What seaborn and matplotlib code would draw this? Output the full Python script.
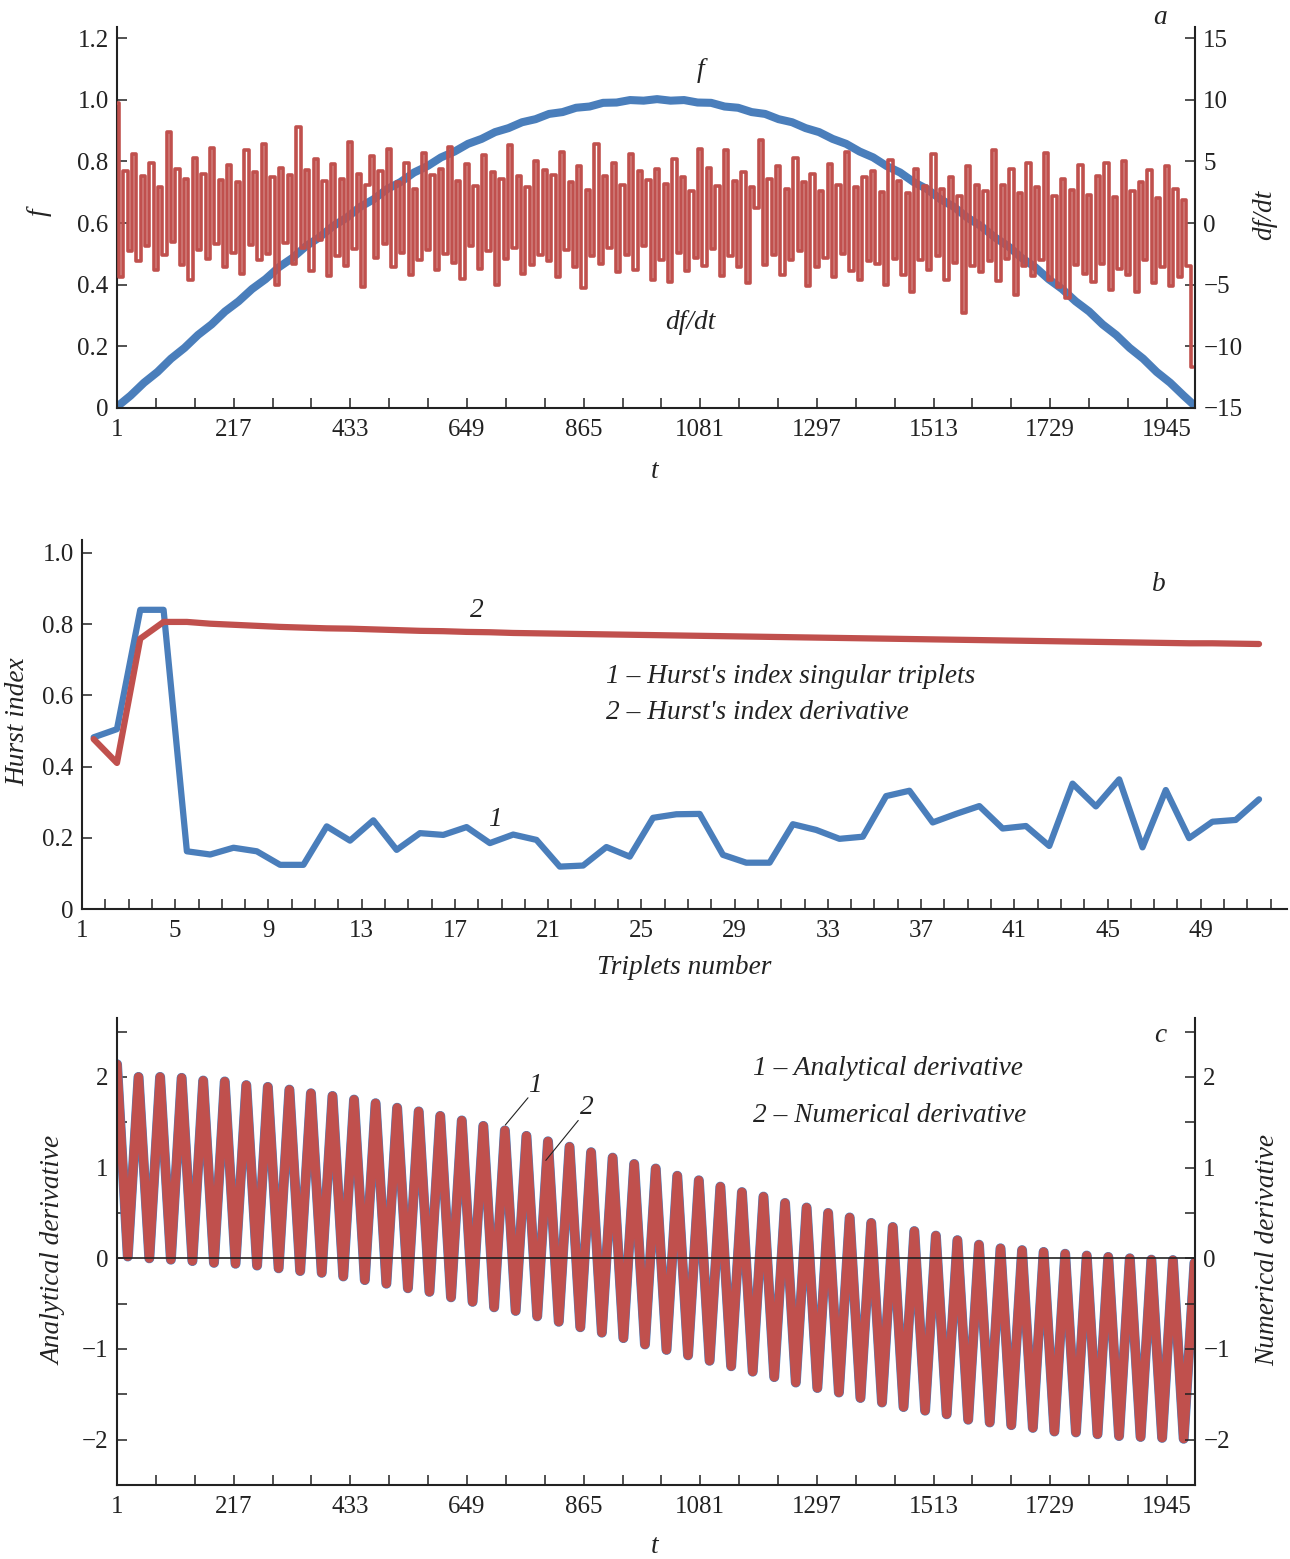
import numpy as np
import pandas as pd
import matplotlib
matplotlib.use("Agg")
import matplotlib.pyplot as plt
from matplotlib.ticker import FixedLocator
import seaborn as sns

# ------------------------------------------------------------------ data
# panel a : signal f (read every 25 time steps) and its numerical derivative df/dt
f_t = np.arange(81) * 25 + 1
f_values = [0.004, 0.040, 0.082, 0.117, 0.160, 0.195, 0.237, 0.271, 0.313, 0.346,
            0.386, 0.418, 0.457, 0.487, 0.525, 0.554, 0.590, 0.617, 0.652, 0.677,
            0.710, 0.733, 0.764, 0.785, 0.813, 0.832, 0.857, 0.873, 0.895, 0.908,
            0.927, 0.937, 0.954, 0.960, 0.974, 0.978, 0.990, 0.991, 0.999, 0.997,
            1.002, 0.997, 0.999, 0.991, 0.990, 0.978, 0.974, 0.960, 0.954, 0.937,
            0.927, 0.908, 0.895, 0.873, 0.857, 0.832, 0.813, 0.785, 0.764, 0.733,
            0.710, 0.677, 0.652, 0.617, 0.590, 0.554, 0.525, 0.487, 0.457, 0.418,
            0.386, 0.346, 0.313, 0.271, 0.237, 0.195, 0.160, 0.117, 0.082, 0.040, 0.0]

dfdt_t = np.arange(250) * 8 + 1
dfdt_values = [
    9.7, -4.4, 4.2, -2.3, 5.6, -3.1, 3.8, -1.9, 4.9, -3.8, 2.9, -2.6, 7.4, -1.5, 4.4, -3.4, 3.6, -4.6, 5.3, -2.2, 4.0, -2.9, 6.1, -1.7, 3.5,
    -3.6, 4.7, -2.4, 3.3, -4.1, 5.9, -1.8, 4.1, -3.0, 6.4, -2.5, 3.7, -5.0, 4.5, -1.6, 3.9, -3.3, 7.8, -2.0, 4.3, -3.9, 5.2, -1.4, 3.4, -4.3,
    4.8, -2.7, 3.6, -3.5, 6.6, -2.1, 4.0, -5.2, 3.1, 5.4, -2.8, 4.2, -1.7, 6.0, -3.6, 3.3, -2.4, 4.9, -4.2, 2.8, -3.0, 5.7, -2.2, 3.9, -3.8,
    4.4, -2.5, 6.2, -3.2, 3.4, -4.5, 4.8, -1.9, 3.0, -3.7, 5.5, -2.3, 4.1, -5.0, 3.6, -2.9, 6.3, -2.0, 3.8, -4.1, 2.9, -3.4, 5.0, -2.6, 4.3,
    -3.1, 3.9, -4.4, 5.8, -2.2, 3.3, -3.6, 4.6, -5.3, 2.7, -2.7, 6.4, -3.3, 3.8, -2.0, 4.9, -4.0, 3.1, -2.6, 5.6, -3.8, 4.2, -1.9, 3.5, -4.6,
    4.4, -3.0, 3.2, -4.8, 5.2, -2.4, 3.7, -3.9, 2.6, -2.8, 6.0, -3.5, 4.5, -2.1, 3.0, -4.3, 5.9, -2.7, 3.4, -3.6, 4.1, -4.9, 2.9, 1.2, 6.7,
    -3.4, 3.6, -2.6, 4.6, -4.2, 2.8, -3.0, 5.3, -2.3, 3.3, -5.1, 4.0, -3.6, 2.6, -2.8, 4.8, -4.4, 3.1, -2.5, 5.8, -3.9, 2.9, -4.6, 3.7, -3.1,
    4.2, -3.3, 2.5, -5.0, 5.1, -2.9, 3.4, -4.2, 2.4, -5.6, 4.4, -3.0, 3.0, -3.8, 5.6, -2.7, 2.8, -4.6, 3.7, -3.2, 2.2, -7.3, 4.6, -3.5, 3.1,
    -4.0, 2.6, -3.1, 5.9, -4.7, 3.1, -2.9, 4.4, -5.8, 2.4, -3.5, 4.9, -4.3, 2.9, -3.0, 5.7, -4.6, 2.2, -5.2, 3.6, -6.1, 2.7, -3.4, 4.7, -4.1,
    2.3, -4.8, 3.8, -3.3, 4.9, -5.4, 2.1, -3.7, 5.0, -4.2, 2.6, -5.6, 3.3, -3.0, 4.3, -4.9, 2.0, -3.6, 4.6, -5.1, 2.8, -4.4, 1.9, -3.5, -11.7]

time_ticks = [1, 217, 433, 649, 865, 1081, 1297, 1513, 1729, 1945]
f_ticks = [0, 0.2, 0.4, 0.6, 0.8, 1.0, 1.2]
f_tick_labels = ["0", "0.2", "0.4", "0.6", "0.8", "1.0", "1.2"]
dfdt_ticks = [-15, -10, -5, 0, 5, 10, 15]

# panel b : Hurst indices per triplet
triplet_numbers = np.arange(1, 52)
hurst_singular = [0.482, 0.505, 0.840, 0.840, 0.162, 0.153, 0.172, 0.162, 0.124, 0.124,
                  0.232, 0.192, 0.249, 0.166, 0.213, 0.208, 0.230, 0.185, 0.209, 0.194,
                  0.119, 0.122, 0.174, 0.147, 0.256, 0.266, 0.267, 0.152, 0.130, 0.130,
                  0.238, 0.222, 0.197, 0.203, 0.317, 0.332, 0.243, 0.267, 0.289, 0.226,
                  0.233, 0.177, 0.352, 0.288, 0.364, 0.173, 0.334, 0.199, 0.245, 0.250, 0.308]
hurst_derivative = [0.477, 0.410, 0.759, 0.806, 0.806, 0.801, 0.798, 0.795, 0.792, 0.790,
                    0.788, 0.787, 0.785, 0.783, 0.781, 0.780, 0.778, 0.777, 0.775, 0.774,
                    0.773, 0.772, 0.771, 0.770, 0.769, 0.768, 0.767, 0.766, 0.765, 0.764,
                    0.763, 0.762, 0.761, 0.760, 0.759, 0.758, 0.757, 0.756, 0.755, 0.754,
                    0.753, 0.752, 0.751, 0.750, 0.749, 0.748, 0.747, 0.746, 0.746, 0.745, 0.744]
hurst_ticks = [0, 0.2, 0.4, 0.6, 0.8, 1.0]
hurst_tick_labels = ["0", "0.2", "0.4", "0.6", "0.8", "1.0"]
triplet_ticks = list(range(1, 53, 4))

# panel c : analytical / numerical derivative (successive maxima and minima)
cycle_period = 39.9
deriv_peaks = [2.14, 2.00, 2.00, 1.99, 1.96, 1.95, 1.91, 1.89, 1.86, 1.82,
               1.79, 1.75, 1.71, 1.66, 1.62, 1.57, 1.52, 1.46, 1.41, 1.35,
               1.29, 1.23, 1.17, 1.11, 1.04, 0.99, 0.91, 0.86, 0.79, 0.73,
               0.68, 0.61, 0.56, 0.50, 0.45, 0.39, 0.345, 0.30, 0.25, 0.20,
               0.15, 0.11, 0.09, 0.07, 0.05, 0.03, 0.015, 0.0, -0.015, -0.02, -0.05]
deriv_troughs = [0.02, 0.0, -0.015, -0.03, -0.05, -0.06, -0.08, -0.11, -0.14, -0.16,
                 -0.20, -0.24, -0.28, -0.33, -0.37, -0.43, -0.48, -0.54, -0.58, -0.64,
                 -0.70, -0.76, -0.82, -0.88, -0.95, -1.01, -1.07, -1.13, -1.19, -1.25,
                 -1.31, -1.37, -1.43, -1.48, -1.54, -1.59, -1.64, -1.68, -1.72, -1.78,
                 -1.81, -1.84, -1.87, -1.91, -1.92, -1.94, -1.96, -1.97, -1.98, -1.99]
deriv_ticks = [-2, -1, 0, 1, 2]
deriv_minor = [-2.5, -1.5, -0.5, 0.5, 1.5, 2.5]

# ------------------------------------------------------------------ style
BLUE = "#4A7EBB"
RED = "#C0504D"
INK = "#222222"

sns.set_theme(style="ticks", rc={
    "xtick.direction": "in", "ytick.direction": "in",
    "xtick.major.size": 7, "ytick.major.size": 7,
    "xtick.minor.size": 7, "ytick.minor.size": 7,
    "xtick.major.width": 1.1, "ytick.major.width": 1.1,
    "xtick.minor.width": 1.1, "ytick.minor.width": 1.1,
    "xtick.color": INK, "ytick.color": INK,
    "axes.edgecolor": INK, "axes.linewidth": 1.5,
    "xtick.labelsize": 18, "ytick.labelsize": 18,
    "axes.labelsize": 19.7, "text.color": INK, "axes.labelcolor": INK,
})
plt.rcParams["font.family"] = ["Liberation Serif", "DejaVu Serif"]
plt.rcParams["axes.unicode_minus"] = True

W, H = 1290, 1559
fig = plt.figure(figsize=(W / 100, H / 100), dpi=100)


def frac(x0, x1, ytop, ybot):
    return [x0 / W, 1 - ybot / H, (x1 - x0) / W, (ybot - ytop) / H]


def minus(v):
    return f"{v:g}".replace("-", "\u2212")


ital = dict(fontstyle="italic", fontsize=19.7, color=INK)

# ------------------------------------------------------------------ panel a
axa = fig.add_axes(frac(117, 1195, 27, 408))
sns.lineplot(x=f_t, y=f_values, ax=axa, color=BLUE, linewidth=5.8,
             estimator=None, sort=False, solid_capstyle="round",
             solid_joinstyle="round")
axa.set_xlim(1, 1997)
axa.set_ylim(0, 1.236)
axa.set_xticks(time_ticks)
axa.xaxis.set_minor_locator(FixedLocator(np.arange(1, 1998, 72)))
axa.set_yticks(f_ticks)
axa.set_yticklabels(f_tick_labels)
axa.spines["top"].set_visible(False)
axa.spines["right"].set_visible(False)
axa.set_xlabel("t", **ital)
axa.xaxis.set_label_coords(0.499, -0.135)
axa.set_ylabel("f", **ital)
axa.yaxis.set_label_coords(-0.061, 0.514)

axa2 = axa.twinx()
sns.lineplot(x=dfdt_t, y=dfdt_values, ax=axa2, color=RED, linewidth=2.6,
             estimator=None, sort=False, drawstyle="steps-mid",
             solid_joinstyle="round", solid_capstyle="round")
axa2.set_ylim(-15, 15.9)
axa2.set_yticks(dfdt_ticks)
axa2.set_yticklabels([minus(v) for v in dfdt_ticks])
for s in ("top", "left", "bottom"):
    axa2.spines[s].set_visible(False)
axa2.set_ylabel("df/dt", **ital)
axa2.yaxis.set_label_coords(1.053, 0.507)

axa.text(1081, 1.096, "f", ha="center", va="center", **ital)
axa.text(1062, 0.276, "df/dt", ha="center", va="center", **ital)
axa.text(0.9675, 1.026, "a", transform=axa.transAxes, ha="center", va="center", **ital)

# ------------------------------------------------------------------ panel b
axb = fig.add_axes(frac(82, 1287, 540, 909))
xb = triplet_numbers + 0.5
sns.lineplot(x=xb, y=hurst_singular, ax=axb, color=BLUE, linewidth=4.5,
             estimator=None, sort=False)
sns.lineplot(x=xb, y=hurst_derivative, ax=axb, color=RED, linewidth=4.5,
             estimator=None, sort=False, solid_capstyle="round")
axb.set_xlim(1, 52.7)
axb.set_ylim(0, 1.036)
axb.set_xticks(triplet_ticks)
axb.xaxis.set_minor_locator(FixedLocator(range(1, 53)))
axb.set_yticks(hurst_ticks)
axb.set_yticklabels(hurst_tick_labels)
axb.spines["top"].set_visible(False)
axb.spines["right"].set_visible(False)
axb.set_xlabel("Triplets number", **ital)
axb.xaxis.set_label_coords(0.4996, -0.125)
axb.set_ylabel("Hurst index", **ital)
axb.yaxis.set_label_coords(-0.043, 0.507)

axb.text(17.96, 0.837, "2", ha="center", va="center", **ital)
axb.text(18.7, 0.25, "1", ha="center", va="center", **ital)
axb.text(23.5, 0.654, "1 \u2013 Hurst's index singular triplets", ha="left", va="center", **ital)
axb.text(23.5, 0.551, "2 \u2013 Hurst's index derivative", ha="left", va="center", **ital)
axb.text(47.2, 0.91, "b", ha="center", va="center", **ital)

# ------------------------------------------------------------------ panel c
axc = fig.add_axes(frac(117, 1195, 1018, 1485))
n_p = len(deriv_peaks)
t_peaks = 1 + cycle_period * np.arange(n_p)
t_troughs = t_peaks[:-1] + cycle_period / 2
tc = np.empty(n_p + len(deriv_troughs))
vc = np.empty_like(tc)
tc[0::2] = t_peaks
tc[1::2] = t_troughs
vc[0::2] = deriv_peaks
vc[1::2] = deriv_troughs
deriv_df = pd.DataFrame({"t": tc, "analytical": vc, "numerical": vc})

sns.lineplot(data=deriv_df, x="t", y="analytical", ax=axc, color=BLUE,
             linewidth=7.2, estimator=None, sort=False, solid_joinstyle="round",
             solid_capstyle="round")
sns.lineplot(data=deriv_df, x="t", y="numerical", ax=axc, color=RED,
             linewidth=6.5, estimator=None, sort=False, solid_joinstyle="round",
             solid_capstyle="round")
axc.axhline(0, color=INK, linewidth=1.2, zorder=5)
axc.set_xlim(1, 1997)
axc.set_ylim(-2.5, 2.65)
axc.set_xticks(time_ticks)
axc.xaxis.set_minor_locator(FixedLocator(np.arange(1, 1998, 72)))
axc.set_yticks(deriv_ticks)
axc.set_yticklabels([minus(v) for v in deriv_ticks])
axc.yaxis.set_minor_locator(FixedLocator(deriv_minor))
axc.spines["top"].set_visible(False)
axc.spines["right"].set_visible(False)
axc.set_xlabel("t", **ital)
axc.xaxis.set_label_coords(0.499, -0.105)
axc.set_ylabel("Analytical derivative", **ital)
axc.yaxis.set_label_coords(-0.047, 0.503)

axc2 = axc.twinx()
axc2.set_ylim(axc.get_ylim())
axc2.set_yticks(deriv_ticks)
axc2.set_yticklabels([minus(v) for v in deriv_ticks])
axc2.yaxis.set_minor_locator(FixedLocator(deriv_minor))
for s in ("top", "left", "bottom"):
    axc2.spines[s].set_visible(False)
axc2.set_ylabel("Numerical derivative", **ital)
axc2.yaxis.set_label_coords(1.056, 0.503)

axc.text(1179, 2.09, "1 \u2013 Analytical derivative", ha="left", va="center", **ital)
axc.text(1179, 1.58, "2 \u2013 Numerical derivative", ha="left", va="center", **ital)
axc.text(1932, 2.46, "c", ha="center", va="center", **ital)
axc.text(775, 1.91, "1", ha="center", va="center", **ital)
axc.plot([762, 720], [1.77, 1.47], color=INK, linewidth=0.8, zorder=6)
axc.text(871, 1.66, "2", ha="center", va="center", **ital)
axc.plot([855, 795], [1.52, 1.08], color=INK, linewidth=0.8, zorder=6)

for ax in (axa, axb, axc):
    ax.tick_params(axis="x", pad=8)
    ax.tick_params(axis="y", pad=6)
for ax in (axa2, axc2):
    ax.tick_params(axis="y", pad=6)

fig.savefig("out.png", dpi=100, facecolor="white")
